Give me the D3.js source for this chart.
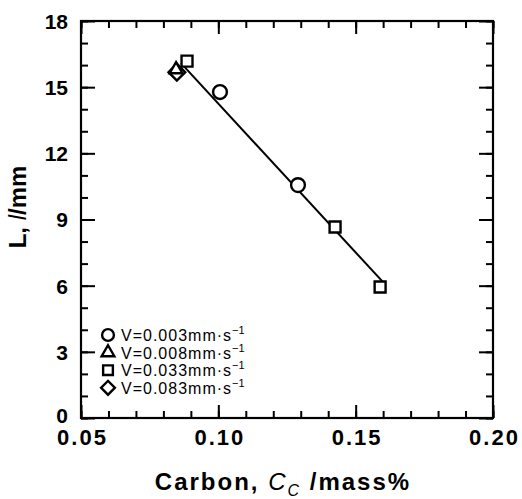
<!doctype html>
<html>
<head>
<meta charset="utf-8">
<title>Carbon vs L</title>
<script src="https://cdn.jsdelivr.net/npm/d3@7"></script>
<style>
  body { margin: 0; background: #fff; }
  text { font-family: "Liberation Sans", Arial, sans-serif; fill: #000; }
</style>
</head>
<body>
<script>
// data
var seriesNames = ["V=0.003mm\u00b7s", "V=0.008mm\u00b7s", "V=0.033mm\u00b7s", "V=0.083mm\u00b7s"];
var circleC = [0.1006, 0.129];
var circleL = [14.78, 10.56];
var triangleC = [0.0846];
var triangleL = [15.8];
var squareC = [0.0886, 0.1425, 0.1589];
var squareL = [16.18, 8.66, 5.94];
var diamondC = [0.0849];
var diamondL = [15.68];
var fitC = [0.0864, 0.1599];
var fitL = [16.09, 6.17];
var xTicks = [0.05, 0.10, 0.15, 0.20];
var yTicks = [0, 3, 6, 9, 12, 15, 18];

var w = 522, h = 499;
var m = {left: 81, top: 21, right: 29, bottom: 81};
var pw = w - m.left - m.right, ph = h - m.top - m.bottom;

var svg = d3.select("body").append("svg").attr("width", w).attr("height", h);
var g = svg.append("g").attr("transform", "translate(" + m.left + "," + m.top + ")");

var x = d3.scaleLinear().domain([0.05, 0.20]).range([0, pw]);
var y = d3.scaleLinear().domain([0, 18]).range([ph, 0]);

var xMinor = d3.range(0.05, 0.2001, 0.01).map(function(d){ return +d.toFixed(2); });
var yMinor = d3.range(0, 19, 1);

function styleAxis(sel) {
  sel.select(".domain").remove();
  sel.selectAll("line").attr("stroke", "#000").attr("stroke-width", 2);
}

// minor ticks all four sides
g.append("g").attr("transform", "translate(0," + ph + ")")
  .call(d3.axisBottom(x).tickValues(xMinor).tickSize(-7).tickFormat("")).call(styleAxis);
g.append("g")
  .call(d3.axisTop(x).tickValues(xMinor).tickSize(-7).tickFormat("")).call(styleAxis);
g.append("g")
  .call(d3.axisLeft(y).tickValues(yMinor).tickSize(-7).tickFormat("")).call(styleAxis);
g.append("g").attr("transform", "translate(" + pw + ",0)")
  .call(d3.axisRight(y).tickValues(yMinor).tickSize(-7).tickFormat("")).call(styleAxis);

// major ticks
var xb = g.append("g").attr("transform", "translate(0," + ph + ")")
  .call(d3.axisBottom(x).tickValues(xTicks).tickSize(-13).tickPadding(10).tickFormat(d3.format(".2f")));
styleAxis(xb);
xb.selectAll("text").attr("font-size", 22).attr("font-weight", "bold").attr("letter-spacing", "2px")
  .attr("dy", "0.75em").attr("dx", "1px").style("font-family", "'Liberation Sans', Arial, sans-serif");

g.append("g")
  .call(d3.axisTop(x).tickValues(xTicks).tickSize(-13).tickFormat("")).call(styleAxis);

var yl = g.append("g")
  .call(d3.axisLeft(y).tickValues(yTicks).tickSize(-14).tickPadding(13));
styleAxis(yl);
yl.selectAll("text").attr("font-size", 21).attr("font-weight", "bold")
  .attr("dy", function(d){ return d === 0 ? "0.2em" : "0.35em"; })
  .style("font-family", "'Liberation Sans', Arial, sans-serif");

g.append("g").attr("transform", "translate(" + pw + ",0)")
  .call(d3.axisRight(y).tickValues(yTicks).tickSize(-14).tickFormat("")).call(styleAxis);

// frame
g.append("rect").attr("width", pw).attr("height", ph)
  .attr("fill", "none").attr("stroke", "#000").attr("stroke-width", 2.2);

// fitted line
var line = d3.line().x(function(d){ return x(d[0]); }).y(function(d){ return y(d[1]); });
g.append("path").datum(d3.zip(fitC, fitL)).attr("d", line)
  .attr("fill", "none").attr("stroke", "#000").attr("stroke-width", 2);

// markers
function drawPts(cs, ls, type, size, rot) {
  g.selectAll(null).data(d3.zip(cs, ls)).enter().append("path")
    .attr("d", d3.symbol().type(type).size(size))
    .attr("transform", function(d){ return "translate(" + x(d[0]) + "," + y(d[1]) + ") rotate(" + rot + ")"; })
    .attr("fill", "#fff").attr("stroke", "#000").attr("stroke-width", 2.4);
}
drawPts(diamondC, diamondL, d3.symbolSquare, 140, 45);
drawPts(triangleC, triangleL, d3.symbolTriangle, 70, 0);
drawPts(squareC, squareL, d3.symbolSquare, 120, 0);
drawPts(circleC, circleL, d3.symbolCircle, 150, 0);

// legend
var legTypes = [d3.symbolCircle, d3.symbolTriangle, d3.symbolSquare, d3.symbolSquare];
var legSizes = [110, 70, 95, 95];
var legRot = [0, 0, 0, 45];
var leg = svg.append("g");
seriesNames.forEach(function(name, i) {
  var ly = 335 + i * 17.6;
  leg.append("path").attr("d", d3.symbol().type(legTypes[i]).size(legSizes[i]))
    .attr("transform", "translate(108," + ly + ") rotate(" + legRot[i] + ")")
    .attr("fill", "#fff").attr("stroke", "#000").attr("stroke-width", 2.4);
  var t = leg.append("text").attr("x", 121).attr("y", ly + 6).attr("font-size", 16)
    .attr("letter-spacing", "1px").text(name);
  t.append("tspan").attr("dy", -7).attr("font-size", 11).attr("letter-spacing", "0px").text("\u22121");
});

// axis titles
var xt = svg.append("text").attr("x", 283).attr("y", 490).attr("text-anchor", "middle")
  .attr("font-size", 24).attr("font-weight", "bold").attr("letter-spacing", "2px");
xt.append("tspan").text("Carbon,  ");
xt.append("tspan").attr("font-style", "italic").attr("font-weight", "normal").text("C");
xt.append("tspan").attr("font-style", "italic").attr("font-weight", "normal").attr("font-size", 16).attr("dy", 6).text("C");
xt.append("tspan").attr("dy", -6).text(" /mass%");

var yt = svg.append("text").attr("transform", "translate(26,207) rotate(-90)")
  .attr("text-anchor", "middle").attr("font-size", 24).attr("font-weight", "bold");
yt.append("tspan").text("L, ");
yt.append("tspan").attr("font-style", "italic").attr("font-weight", "normal").text("l");
yt.append("tspan").text("/mm");
</script>
</body>
</html>
